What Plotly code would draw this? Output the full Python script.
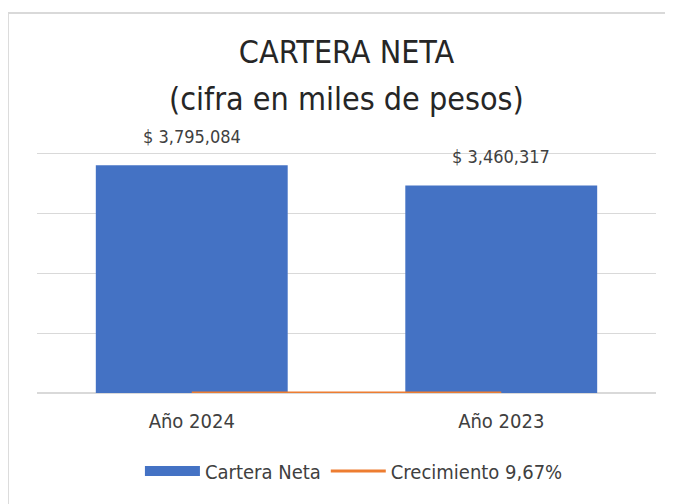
import plotly.graph_objects as go

# ---------- data ----------
categorias = ["Año 2024", "Año 2023"]
cartera_neta = [3795084, 3460317]
crecimiento = [0.0967, 0.0967]
nombre_barras = "Cartera Neta"
nombre_linea = "Crecimiento 9,67%"
titulo = "CARTERA NETA"
subtitulo = "(cifra en miles de pesos)"
y_ticks = [0, 1000000, 2000000, 3000000, 4000000]

FONT = "DejaVu Sans Condensed, Liberation Sans Narrow, Arial Narrow, sans-serif"
AZUL = "#4472C4"
NARANJA = "#ED7D31"
GRIS = "#D9D9D9"

fig = go.Figure()
fig.add_trace(go.Bar(
    x=categorias, y=cartera_neta, name=nombre_barras,
    marker=dict(color=AZUL, line=dict(width=0)),
    legendgroup="cartera", showlegend=False,
))
# legend entry only: spreadsheet-style wide swatch for the bars
fig.add_trace(go.Scatter(
    x=[None], y=[None], name=nombre_barras, mode="lines",
    line=dict(color=AZUL, width=10), legendgroup="cartera",
    hoverinfo="skip",
))
fig.add_trace(go.Scatter(
    x=categorias, y=crecimiento, name=nombre_linea, mode="lines",
    line=dict(color=NARANJA, width=3),
))

# data labels above the bars
for cat, val in zip(categorias, cartera_neta):
    fig.add_annotation(
        x=cat, y=val, text=f"$ {val:,}", showarrow=False,
        yanchor="bottom", yshift=16,
        font=dict(family=FONT, size=18, color="#404040"),
    )

# second title line
fig.add_annotation(
    x=0.5, y=1.167, xref="paper", yref="paper", text=subtitulo,
    showarrow=False, xanchor="center", yanchor="middle",
    font=dict(family=FONT, size=32, color="#262626"),
)

# chart frame like the spreadsheet's chart area
fig.add_shape(
    type="rect", xref="paper", yref="paper",
    x0=-0.047, x1=1.08, y0=-0.6, y1=1.508,
    line=dict(color=GRIS, width=2), fillcolor="rgba(0,0,0,0)", layer="below",
)

fig.update_layout(
    width=673, height=504,
    margin=dict(l=29, r=25, t=133, b=119, autoexpand=False),
    paper_bgcolor="white", plot_bgcolor="white",
    font=dict(family=FONT, color="#404040"),
    title=dict(
        text=titulo,
        x=0.5, xref="paper", xanchor="center",
        y=1 - 44 / 504, yref="container", yanchor="middle",
        font=dict(family=FONT, size=32, color="#262626"),
    ),
    bargap=0.38,
    showlegend=True,
    legend=dict(
        orientation="h", x=0.512, xanchor="center",
        y=1 - 463 / 504, yref="container", yanchor="middle",
        font=dict(family=FONT, size=20, color="#404040"),
        traceorder="normal", itemwidth=55,
    ),
    xaxis=dict(
        showgrid=False, showline=False, ticks="",
        ticklabelstandoff=14,
        tickfont=dict(family=FONT, size=20, color="#404040"),
    ),
    yaxis=dict(
        range=[0, 4200000], tickvals=y_ticks, showticklabels=False,
        showgrid=True, gridcolor=GRIS, gridwidth=1,
        zeroline=True, zerolinecolor=GRIS, zerolinewidth=2,
        showline=False,
    ),
)

fig.write_html("out.html")
